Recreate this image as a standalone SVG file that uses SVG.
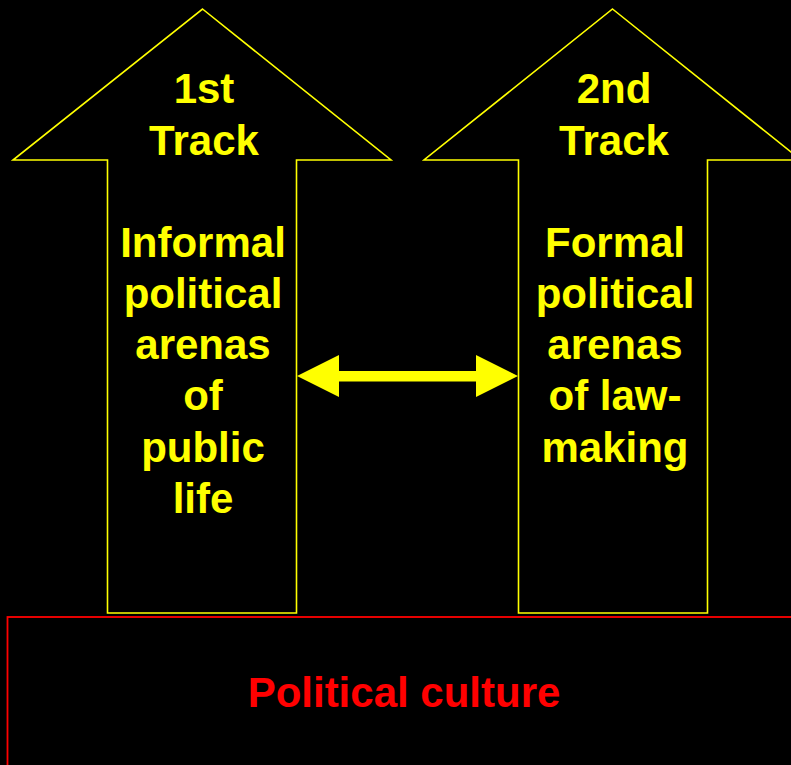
<svg xmlns="http://www.w3.org/2000/svg" width="791" height="765" viewBox="0 0 791 765">
<style>
.arrow{fill:#000;stroke:#ffff00;stroke-width:1.6;stroke-linejoin:miter}
.t{font-family:"Liberation Sans",Arial,sans-serif;font-weight:bold;font-size:42px;fill:#ffff00;text-anchor:middle}
.r{font-family:"Liberation Sans",Arial,sans-serif;font-weight:bold;font-size:42px;fill:#ff0000;text-anchor:middle}
</style>
<rect x="0" y="0" width="791" height="765" fill="#000"/>
<g id="track1">
<polygon class="arrow" points="202.5,9 391,160 296.5,160 296.5,613 107.5,613 107.5,160 13,160"/>
<text class="t" x="204" y="103">1st</text>
<text class="t" x="204" y="155">Track</text>
<text class="t" x="203" y="257">Informal</text>
<text class="t" x="203" y="308">political</text>
<text class="t" x="203" y="359">arenas</text>
<text class="t" x="203" y="410">of</text>
<text class="t" x="203" y="462">public</text>
<text class="t" x="203" y="513">life</text>
</g>
<g id="track2">
<polygon class="arrow" points="612.5,9 801,160 707.5,160 707.5,613 518.5,613 518.5,160 424,160"/>
<text class="t" x="614" y="103">2nd</text>
<text class="t" x="614" y="155">Track</text>
<text class="t" x="615" y="257">Formal</text>
<text class="t" x="615" y="308">political</text>
<text class="t" x="615" y="359">arenas</text>
<text class="t" x="615" y="410">of law-</text>
<text class="t" x="615" y="462">making</text>
</g>
<g id="culture">
<rect x="7.5" y="617" width="800" height="160" fill="none" stroke="#ff0000" stroke-width="1.8"/>
<text class="r" x="404" y="707">Political culture</text>
</g>
<g id="connectors">
<polygon fill="#ffff00" points="297,376 339,355 339,371 476,371 476,355 518,376 476,397 476,381.5 339,381.5 339,397"/>
</g>
</svg>
